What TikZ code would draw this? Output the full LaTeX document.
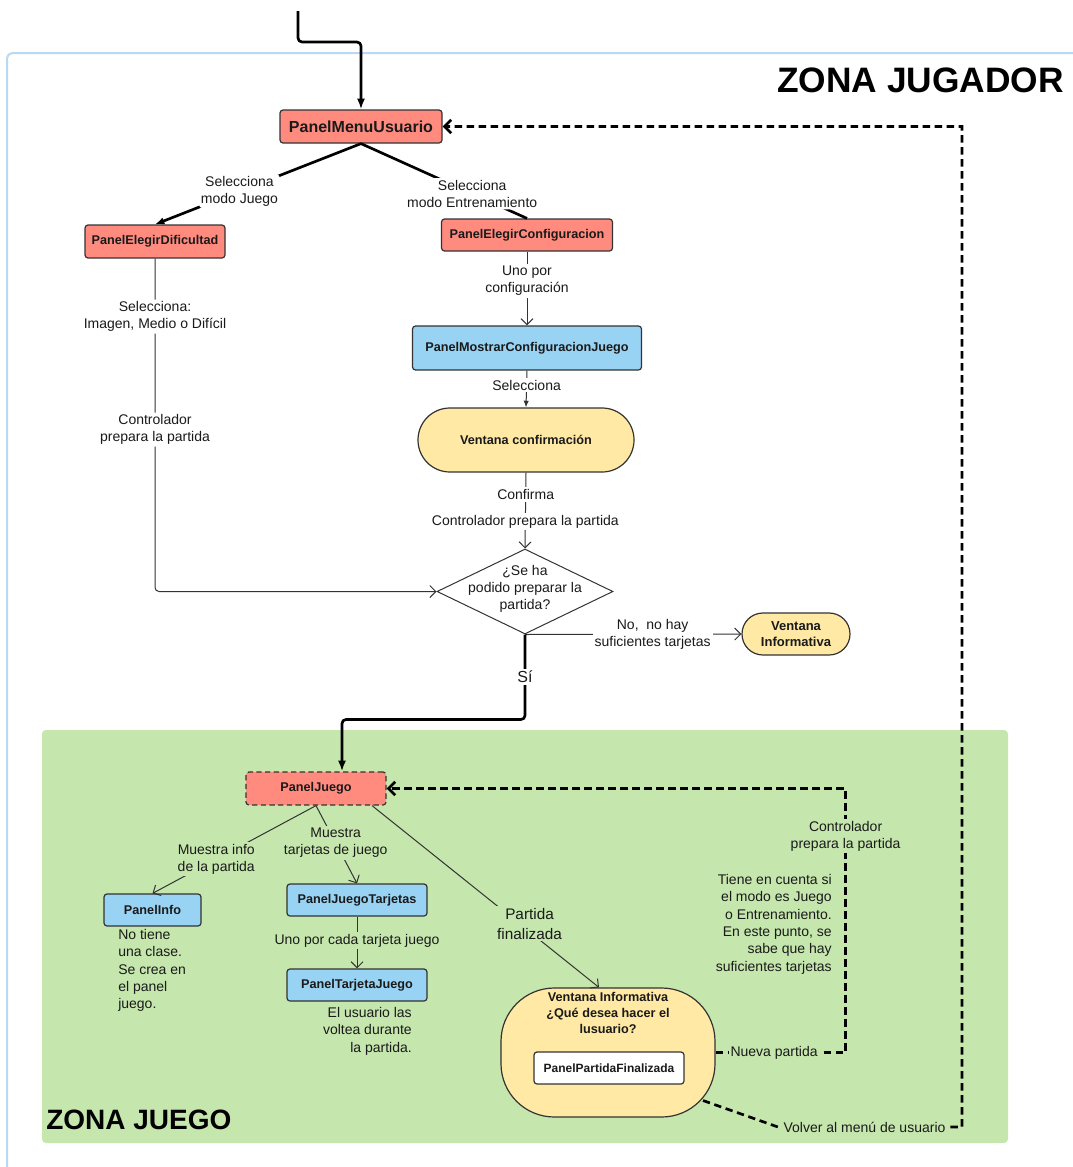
\documentclass[tikz,border=0pt]{standalone}
\usepackage{fontspec}
\setmainfont{Liberation Sans}
\usetikzlibrary{shapes.geometric,arrows.meta,calc}
\definecolor{redfill}{HTML}{FF8B7F}
\definecolor{bluefill}{HTML}{99D3F4}
\definecolor{yelfill}{HTML}{FFE9A4}
\definecolor{greenfill}{HTML}{C5E6AD}
\definecolor{framecol}{HTML}{B8D8F3}
\definecolor{edgecol}{HTML}{333333}
\definecolor{txtcol}{HTML}{1A1A1A}
\begin{document}
\begin{tikzpicture}[x=0.75pt,y=-0.75pt,
  every node/.style={text=txtcol},
  boxbase/.style={draw=edgecol, line width=0.9pt, rounded corners=2.25pt, inner sep=0pt, font=\fontsize{9.5}{11}\selectfont\bfseries},
  redbox/.style={boxbase, fill=redfill},
  bluebox/.style={boxbase, fill=bluefill},
  yelbox/.style={boxbase, fill=yelfill, align=center},
  lbl/.style={fill=white, inner sep=1.5pt, align=center, font=\fontsize{10.5}{12.75}\selectfont},
  lblg/.style={lbl, fill=greenfill},
  notetext/.style={inner sep=0pt, font=\fontsize{10.5}{13}\selectfont},
  thinedge/.style={draw=edgecol, line width=0.75pt},
  thickedge/.style={draw=black, line width=2pt, rounded corners=3pt},
  dashedge/.style={draw=black, line width=2pt, dash pattern=on 5.5pt off 3.5pt},
  opentip/.style={-{Straight Barb[length=4.5pt,width=9pt]}},
  bigtip/.style={-{Latex[length=8pt,width=6pt]}},
  backtip/.style={-{Straight Barb[length=5pt,width=10pt]}}
]
\useasboundingbox (0,0) rectangle (1073,1167);

% zone frames
\draw[framecol, line width=1.5pt, rounded corners=4pt] (7,1175) -- (7,53) -- (1080,53);
\fill[greenfill, rounded corners=3pt] (42,730) rectangle (1008,1143);
\node[font=\fontsize{26.5}{30}\selectfont\bfseries, anchor=base east, inner sep=0pt, text=black] (zjug) at (1064,92) {ZONA JUGADOR};
\node[font=\fontsize{21}{24}\selectfont\bfseries, anchor=base west, inner sep=0pt, text=black] (zjue) at (46,1129) {ZONA JUEGO};

% upper nodes
\node[redbox, minimum width=121.5pt, minimum height=24.75pt, font=\fontsize{12}{14}\selectfont\bfseries] (menu) at (361,126.5) {PanelMenuUsuario};
\node[redbox, minimum width=105pt, minimum height=24.75pt] (dif) at (155,241.5) {PanelElegirDificultad};
\node[redbox, minimum width=128.25pt, minimum height=24pt] (conf) at (527,235) {PanelElegirConfiguracion};
\node[bluebox, minimum width=171.75pt, minimum height=33pt] (mostrar) at (527,348) {PanelMostrarConfiguracionJuego};
\node[yelbox, minimum width=162pt, minimum height=48pt, rounded corners=23.9pt] (vconf) at (526,440) {Ventana confirmación};
\node[draw=edgecol, line width=0.75pt, fill=white, diamond, minimum width=132pt, minimum height=63.75pt, inner sep=0pt] (dia) at (525,591.5) {};
\node[align=center, inner sep=0pt, font=\fontsize{10.5}{12.75}\selectfont] (diat) at ($(dia.center)+(0,-3)$) {¿Se ha\\podido preparar la\\partida?};
\node[yelbox, minimum width=81pt, minimum height=31.5pt, rounded corners=15.7pt, font=\fontsize{9.75}{12}\selectfont\bfseries] (vinf) at (796,634) {Ventana\\Informativa};

% game zone nodes
\node[redbox, dash pattern=on 4pt off 2.5pt, minimum width=105pt, minimum height=24.75pt] (juego) at (316,788.5) {PanelJuego};
\node[bluebox, minimum width=72.75pt, minimum height=24pt] (info) at (152.5,910) {PanelInfo};
\node[bluebox, minimum width=105pt, minimum height=24pt] (jtar) at (357,900) {PanelJuegoTarjetas};
\node[bluebox, minimum width=105pt, minimum height=24pt] (tarj) at (357,985) {PanelTarjetaJuego};
\node[yelbox, minimum width=160.5pt, minimum height=96.75pt, rounded corners=40pt] (vbig) at (608,1052.5) {};
\node[align=center, inner sep=0pt, anchor=north, font=\fontsize{9.5}{12}\selectfont\bfseries] (vbigt) at (608,992) {Ventana Informativa\\¿Qué desea hacer el\\lusuario?};
\node[boxbase, fill=white, minimum width=112.5pt, minimum height=24pt, font=\fontsize{9}{11}\selectfont\bfseries] (pfin) at (609,1068) {PanelPartidaFinalizada};

% notes
\node[notetext, anchor=north west, align=left] (note1) at (118,929) {No tiene\\una clase.\\Se crea en\\el panel\\juego.};
\node[notetext, anchor=north east, align=right] (note2) at (412,1007) {El usuario las\\voltea durante\\la partida.};
\node[notetext, anchor=north east, align=right] (note3) at (832,874) {Tiene en cuenta si\\el modo es Juego\\o Entrenamiento.\\En este punto, se\\sabe que hay\\suficientes tarjetas};

% upper connectors
\coordinate (entry) at (298,11);
\draw[thickedge, bigtip] (entry) -- ++(0,31) -| (menu.north);
\draw[thickedge, -{Latex[length=7pt,width=5.5pt]}] (menu.south) -- node[lbl, pos=0.59]{Selecciona\\modo Juego} (dif.north);
\draw[thickedge] (menu.south) -- node[lbl, pos=0.67]{Selecciona\\modo Entrenamiento} (conf.north);
\draw[thinedge, opentip, rounded corners=3pt] (dif.south) |- node[lbl, pos=0.087]{Selecciona:\\Imagen, Medio o Difícil} node[lbl, pos=0.257]{Controlador\\prepara la partida} (dia.west);
\draw[thinedge, opentip] (conf.south) -- node[lbl, pos=0.4]{Uno por\\configuración} (mostrar.north);
\draw[thinedge, -{Latex[length=5pt,width=4pt]}] (mostrar.south) -- node[lbl, pos=0.4]{Selecciona} (vconf.north);
\draw[thinedge, opentip] (vconf.south) -- node[lbl, pos=0.29]{Confirma} node[lbl, pos=0.645]{Controlador prepara la partida} (dia.north);
\draw[thinedge, opentip] (dia.south) -- node[lbl, pos=0.59]{No,\ \ no hay\\suficientes tarjetas} (vinf.west);
\draw[thickedge, bigtip] (dia.south) -- node[lbl, pos=0.5, font=\fontsize{12}{14}\selectfont]{Sí} ++(0,85) -| ([xshift=19.5pt]juego.north);

% game zone connectors
\draw[thinedge, opentip] (juego.south) -- node[lblg, pos=0.61]{Muestra info\\de la partida} (info.north);
\draw[thinedge, opentip] (juego.south) -- node[lblg, pos=0.48]{Muestra\\tarjetas de juego} (jtar.north);
\draw[thinedge, opentip] ([xshift=42pt]juego.south) -- node[lblg, pos=0.65, xshift=7.5pt, font=\fontsize{11.5}{15}\selectfont]{Partida\\finalizada} ([xshift=-6.75pt]vbig.north);
\draw[thinedge, opentip] (jtar.south) -- node[lblg, pos=0.47]{Uno por cada tarjeta juego} (tarj.north);
\draw[dashedge, backtip] (vbig.east) -- node[lblg, pos=0.45]{Nueva partida} ++(130,0) |- node[lblg, pos=0.41]{Controlador\\prepara la partida} (juego.east);
\coordinate (vb1) at (778,1127);
\coordinate (vb2) at (962,1127);
\draw[dashedge, backtip] ($(vbig.center)+(95,48)$) -- (vb1) -- node[lblg, pos=0.47]{Volver al menú de usuario} (vb2) |- (menu.east);
\end{tikzpicture}
\end{document}
